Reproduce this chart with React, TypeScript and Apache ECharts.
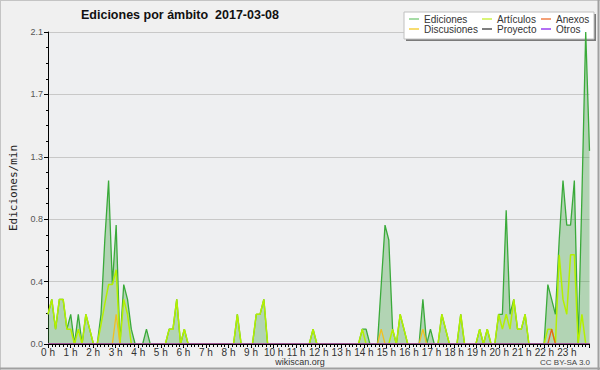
import React, { useEffect, useRef } from "react";
import * as echarts from "echarts";

// 144 ten-minute slots (00:00 ... 23:50)
const slotLabels: string[] = Array.from({ length: 144 }, (_, i) => {
  const h = Math.floor(i / 6);
  const m = (i % 6) * 10;
  return `${String(h).padStart(2, "0")}:${String(m).padStart(2, "0")}`;
});

const hourLabels = [
  "0 h", "1 h", "2 h", "3 h", "4 h", "5 h", "6 h", "7 h", "8 h", "9 h", "10 h", "11 h",
  "12 h", "13 h", "14 h", "15 h", "16 h", "17 h", "18 h", "19 h", "20 h", "21 h", "22 h", "23 h",
];

const ediciones = [
  0.2, 0.3, 0.1, 0.3, 0.3, 0.1, 0.2, 0, 0.2, 0, 0.2, 0.1,
  0, 0, 0.2, 0.7, 1.1, 0.4, 0.8, 0, 0.4, 0.3, 0.1, 0,
  0, 0, 0.1, 0, 0, 0, 0, 0, 0.1, 0.1, 0.3, 0,
  0.1, 0, 0, 0, 0, 0, 0, 0, 0, 0, 0, 0,
  0, 0, 0.2, 0, 0, 0, 0, 0.2, 0.2, 0.3, 0, 0,
  0, 0, 0, 0, 0, 0, 0, 0, 0, 0, 0.1, 0,
  0, 0, 0, 0, 0, 0, 0, 0, 0, 0, 0, 0.1,
  0.1, 0, 0, 0, 0.4, 0.8, 0.7, 0.1, 0, 0.2, 0.1, 0,
  0, 0, 0, 0.3, 0, 0.1, 0, 0, 0.2, 0.1, 0, 0,
  0, 0.2, 0, 0, 0, 0, 0.1, 0, 0.1, 0, 0, 0.2,
  0.2, 0.9, 0.2, 0.3, 0.1, 0.1, 0.2, 0, 0, 0, 0, 0,
  0.4, 0.3, 0.2, 0.7, 1.1, 0.8, 0.8, 1.1, 0, 1.0, 2.1, 1.3,
];

const articulos = [
  0.2, 0.3, 0.1, 0.3, 0.3, 0.1, 0.1, 0, 0.1, 0, 0.2, 0.1,
  0, 0, 0.13, 0.27, 0.4, 0.4, 0.5, 0, 0.3, 0.2, 0, 0,
  0, 0, 0, 0, 0, 0, 0, 0, 0.1, 0.1, 0.3, 0,
  0.1, 0, 0, 0, 0, 0, 0, 0, 0, 0, 0, 0,
  0, 0, 0.2, 0, 0, 0, 0, 0.2, 0.2, 0.3, 0, 0,
  0, 0, 0, 0, 0, 0, 0, 0, 0, 0, 0.1, 0,
  0, 0, 0, 0, 0, 0, 0, 0, 0, 0, 0, 0.1,
  0, 0, 0, 0, 0, 0, 0, 0.1, 0, 0.2, 0.1, 0,
  0, 0, 0, 0, 0, 0, 0, 0, 0.2, 0.1, 0, 0,
  0, 0.2, 0, 0, 0, 0, 0.1, 0, 0.1, 0, 0, 0.2,
  0.1, 0.2, 0.1, 0.3, 0.1, 0.1, 0.2, 0, 0, 0, 0, 0,
  0.1, 0.1, 0, 0.6, 0.3, 0.2, 0.6, 0.6, 0, 0.2, 0, 0,
];

const discusiones = [
  0, 0, 0, 0, 0, 0, 0, 0, 0, 0, 0, 0,
  0, 0, 0, 0, 0, 0, 0.2, 0, 0, 0, 0, 0,
  0, 0, 0, 0, 0, 0, 0, 0, 0, 0, 0, 0,
  0, 0, 0, 0, 0, 0, 0, 0, 0, 0, 0, 0,
  0, 0, 0, 0, 0, 0, 0, 0, 0, 0, 0, 0,
  0, 0, 0, 0, 0, 0, 0, 0, 0, 0, 0, 0,
  0, 0, 0, 0, 0, 0, 0, 0, 0, 0, 0, 0,
  0, 0, 0, 0, 0.1, 0, 0, 0, 0, 0, 0, 0,
  0, 0, 0, 0.1, 0, 0, 0, 0, 0, 0, 0, 0,
  0, 0, 0, 0, 0, 0, 0, 0, 0, 0, 0, 0,
  0, 0, 0, 0, 0, 0, 0, 0, 0, 0, 0, 0,
  0, 0, 0, 0, 0, 0, 0, 0, 0, 0, 0, 0,
];

const anexos = [
  0, 0, 0, 0, 0, 0, 0, 0, 0, 0, 0, 0,
  0, 0, 0, 0, 0, 0, 0, 0, 0, 0, 0, 0,
  0, 0, 0, 0, 0, 0, 0, 0, 0, 0, 0, 0,
  0, 0, 0, 0, 0, 0, 0, 0, 0, 0, 0, 0,
  0, 0, 0, 0, 0, 0, 0, 0, 0, 0, 0, 0,
  0, 0, 0, 0, 0, 0, 0, 0, 0, 0, 0, 0,
  0, 0, 0, 0, 0, 0, 0, 0, 0, 0, 0, 0,
  0, 0, 0, 0, 0, 0, 0, 0, 0, 0, 0, 0,
  0, 0, 0, 0, 0, 0, 0, 0, 0, 0, 0, 0,
  0, 0, 0, 0, 0, 0, 0, 0, 0, 0, 0, 0,
  0, 0, 0, 0, 0, 0, 0, 0, 0, 0, 0, 0,
  0, 0.1, 0, 0, 0, 0, 0, 0, 0, 0, 0, 0,
];

const proyecto = [
  0, 0, 0, 0, 0, 0, 0, 0, 0, 0, 0, 0,
  0, 0, 0, 0, 0, 0, 0, 0, 0, 0, 0, 0,
  0, 0, 0, 0, 0, 0, 0, 0, 0, 0, 0, 0,
  0, 0, 0, 0, 0, 0, 0, 0, 0, 0, 0, 0,
  0, 0, 0, 0, 0, 0, 0, 0, 0, 0, 0, 0,
  0, 0, 0, 0, 0, 0, 0, 0, 0, 0, 0, 0,
  0, 0, 0, 0, 0, 0, 0, 0, 0, 0, 0, 0,
  0, 0, 0, 0, 0, 0, 0, 0, 0, 0, 0, 0,
  0, 0, 0, 0, 0, 0, 0, 0, 0, 0, 0, 0,
  0, 0, 0, 0, 0, 0, 0, 0, 0, 0, 0, 0,
  0, 0, 0, 0, 0, 0, 0, 0, 0, 0, 0, 0,
  0, 0, 0, 0, 0, 0, 0, 0, 0, 0, 0, 0,
];

const otros = [
  0, 0, 0, 0, 0, 0, 0, 0, 0, 0, 0, 0,
  0, 0, 0, 0, 0, 0, 0, 0, 0, 0, 0, 0,
  0, 0, 0, 0, 0, 0, 0, 0, 0, 0, 0, 0,
  0, 0, 0, 0, 0, 0, 0, 0, 0, 0, 0, 0,
  0, 0, 0, 0, 0, 0, 0, 0, 0, 0, 0, 0,
  0, 0, 0, 0, 0, 0, 0, 0, 0, 0, 0, 0,
  0, 0, 0, 0, 0, 0, 0, 0, 0, 0, 0, 0,
  0, 0, 0, 0, 0, 0, 0, 0, 0, 0, 0, 0,
  0, 0, 0, 0, 0, 0, 0, 0, 0, 0, 0, 0,
  0, 0, 0, 0, 0, 0, 0, 0, 0, 0, 0, 0,
  0, 0, 0, 0, 0, 0, 0, 0, 0, 0, 0, 0,
  0, 0, 0, 0, 0, 0, 0, 0, 0, 0, 0, 0,
];

const FONT = "Liberation Sans, Arial, sans-serif";

const legendText = { fontSize: 10, fontFamily: FONT, color: "#333", lineHeight: 10 };

function makeLegend(left: number, items: { name: string; color: string }[]) {
  return {
    left,
    top: 14,
    orient: "vertical",
    padding: 0,
    itemGap: 0,
    itemWidth: 10,
    itemHeight: 1.5,
    icon: "rect",
    selectedMode: false,
    textStyle: legendText,
    data: items.map((it) => ({ name: it.name, itemStyle: { color: it.color } })),
  };
}

export default function App() {
  const ref = useRef<HTMLDivElement>(null);
  useEffect(() => {
    document.body.style.margin = "0";
    const chart = echarts.init(ref.current!, null, { renderer: "svg" });
    const line = (name: string, data: number[], color: string, legendColor: string, width = 1.3, extra: any = {}) => ({
      name,
      type: "line",
      data,
      xAxisIndex: 0,
      yAxisIndex: 0,
      symbol: "none",
      color: legendColor,
      lineStyle: { color, width },
      z: 2,
      ...extra,
    });
    chart.setOption({
      animation: false,
      backgroundColor: "#f0f0f0",
      textStyle: { fontFamily: FONT },
      title: {
        text: "Ediciones por ámbito  2017-03-08",
        left: 76,
        top: 3,
        textStyle: { fontSize: 12.5, fontWeight: "bold", color: "#111", fontFamily: FONT },
      },
      grid: {
        left: 46.5,
        right: 10.5,
        top: 32,
        bottom: 26,
        show: true,
        backgroundColor: "#eeeff1",
        borderWidth: 0,
      },
      legend: [
        makeLegend(409, [
          { name: "Ediciones", color: "#88d088" },
          { name: "Discusiones", color: "#f5d040" },
        ]),
        makeLegend(482, [
          { name: "Artículos", color: "#cdf04a" },
          { name: "Proyecto", color: "#555555" },
        ]),
        makeLegend(541, [
          { name: "Anexos", color: "#f0804a" },
          { name: "Otros", color: "#9a40f0" },
        ]),
      ],
      xAxis: [
        { type: "category", data: slotLabels, boundaryGap: false, show: false },
        {
          type: "value",
          min: 0,
          max: 24,
          interval: 1,
          position: "bottom",
          z: 5,
          axisLine: { show: true, onZero: false, lineStyle: { color: "#000", width: 1 } },
          axisTick: { show: true, length: 4, lineStyle: { color: "#000" } },
          minorTick: { show: true, splitNumber: 6, length: 3, lineStyle: { color: "#000" } },
          axisLabel: {
            formatter: (v: number) => (v < 24 ? hourLabels[v] : ""),
            fontSize: 10,
            color: "#333",
            margin: 3,
            fontFamily: FONT,
          },
          splitLine: { show: false },
        },
      ],
      yAxis: {
        type: "value",
        min: 0,
        max: 2.1,
        interval: 0.42,
        name: "Ediciones/min",
        nameLocation: "middle",
        nameGap: 29,
        nameRotate: 90,
        nameTextStyle: { fontFamily: "DejaVu Sans Mono", fontSize: 11, color: "#222" },
        axisLine: { show: true, lineStyle: { color: "#000" } },
        axisTick: { show: true, length: 4, lineStyle: { color: "#000" } },
        minorTick: { show: true, splitNumber: 4, length: 2, lineStyle: { color: "#000" } },
        axisLabel: {
          formatter: (v: number) => v.toFixed(1),
          fontSize: 9,
          color: "#555",
          margin: 5,
          fontFamily: FONT,
        },
        splitLine: { show: true, lineStyle: { color: "#c8c8c8", width: 1 } },
      },
      graphic: [
        { type: "rect", z: 1, shape: { x: 406, y: 14, width: 190, height: 27 }, style: { fill: "#7a7a7a" } },
        { type: "rect", z: 1, shape: { x: 404, y: 12, width: 190, height: 27 }, style: { fill: "#ffffff", stroke: "#c0c0c0", lineWidth: 1 } },
        {
          type: "text",
          x: 300,
          y: 362,
          style: { text: "wikiscan.org", fontSize: 9, fill: "#333", align: "center", verticalAlign: "middle", fontFamily: FONT },
        },
        {
          type: "text",
          x: 590,
          y: 362,
          style: { text: "CC BY-SA 3.0", fontSize: 8, fill: "#444", align: "right", verticalAlign: "middle", fontFamily: FONT },
        },
        { type: "line", shape: { x1: 0.5, y1: 0, x2: 0.5, y2: 370 }, style: { stroke: "#c4c4c4", lineWidth: 1 } },
        { type: "line", shape: { x1: 0, y1: 0.5, x2: 600, y2: 0.5 }, style: { stroke: "#c4c4c4", lineWidth: 1 } },
        { type: "line", shape: { x1: 598.5, y1: 0, x2: 598.5, y2: 370 }, style: { stroke: "#a0a0a0", lineWidth: 2 } },
        { type: "line", shape: { x1: 0, y1: 368.5, x2: 600, y2: 368.5 }, style: { stroke: "#a0a0a0", lineWidth: 2 } },
      ],
      series: [
        line("Ediciones", ediciones, "#3aaa3a", "#88d088", 1.3, {
          areaStyle: { color: "rgba(60,160,60,0.48)", origin: "start" },
        }),
        line("Artículos", articulos, "#b4f000", "#cdf04a", 1.5),
        line("Discusiones", discusiones, "#f0c020", "#f5d040", 1.3),
        line("Anexos", anexos, "#e8601c", "#f0804a", 1.3),
        line("Proyecto", proyecto, "#555555", "#555555", 1),
        line("Otros", otros, "#9a40f0", "#9a40f0", 1),
      ],
    });
    return () => chart.dispose();
  }, []);
  return <div ref={ref} style={{ width: 600, height: 370 }} />;
}
